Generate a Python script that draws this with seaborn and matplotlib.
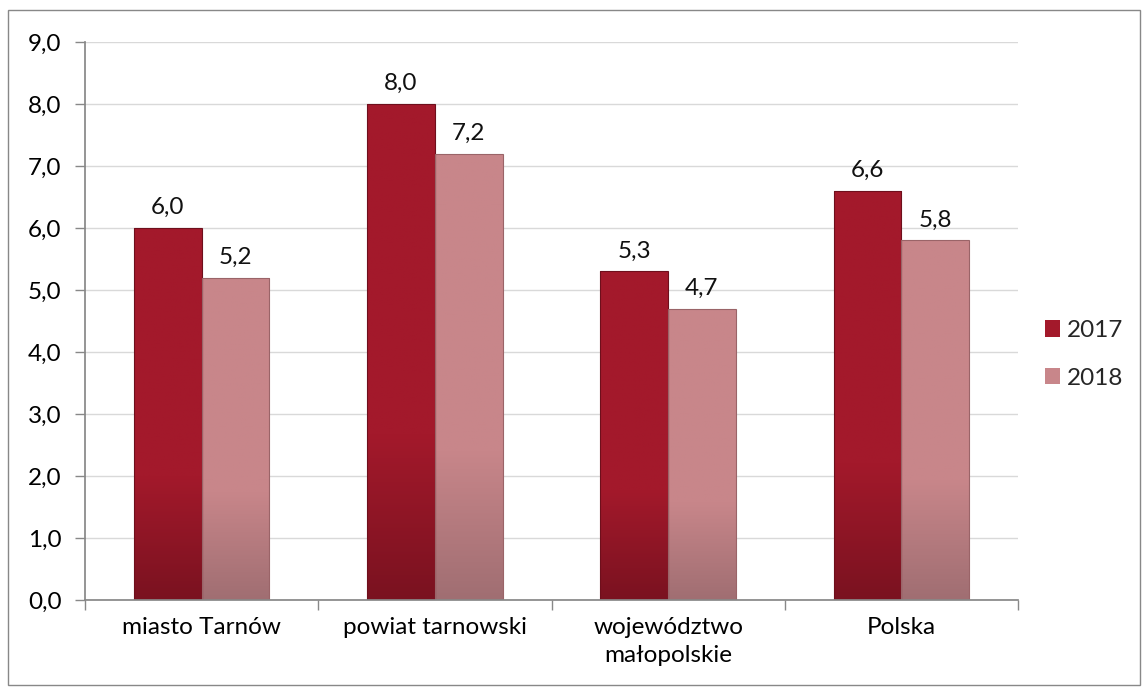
import numpy as np
import pandas as pd
import matplotlib
matplotlib.use("Agg")
import matplotlib.pyplot as plt
import matplotlib.colors as mcolors
from matplotlib.patches import Rectangle
import seaborn as sns

categories = ["miasto Tarnów", "powiat tarnowski", "województwo\nmałopolskie", "Polska"]
values_2017 = [6.0, 8.0, 5.3, 6.6]
values_2018 = [5.2, 7.2, 4.7, 5.8]
series = ["2017", "2018"]
y_ticks = [0, 1, 2, 3, 4, 5, 6, 7, 8, 9]

df = pd.DataFrame({
    "kategoria": categories * 2,
    "rok": [series[0]] * 4 + [series[1]] * 4,
    "wartosc": values_2017 + values_2018,
})

sns.set_theme(style="white")
plt.rcParams["font.family"] = ["Lato", "DejaVu Sans"]

FS = 17.5
colors = {"2017": "#A3192B", "2018": "#C8868A"}
dark = {"2017": "#7A1220", "2018": "#A06E72"}
edge = {"2017": "#6E0F1C", "2018": "#9A6468"}

fig = plt.figure(figsize=(11.48, 6.93), dpi=100)
ax = fig.add_axes([85 / 1148, 93 / 693, (1018 - 85) / 1148, (600 - 42) / 693])

sns.barplot(data=df, x="kategoria", y="wartosc", hue="rok", order=categories,
            hue_order=series, palette=colors, width=0.58, ax=ax,
            edgecolor="none", linewidth=0, legend=True)

for cont, s in zip(ax.containers, series):
    cmap = mcolors.LinearSegmentedColormap.from_list("g", [dark[s], colors[s], colors[s], colors[s]])
    for bar in cont:
        x0, y0 = bar.get_x(), bar.get_y()
        w, h = bar.get_width(), bar.get_height()
        grad = np.linspace(0, 1, 256).reshape(-1, 1)
        im = ax.imshow(grad, extent=[x0, x0 + w, y0, y0 + h], origin="lower",
                       cmap=cmap, aspect="auto", zorder=bar.get_zorder() + 0.1)
        im.set_clip_path(bar)
        ax.add_patch(Rectangle((x0, y0), w, h, fill=False, edgecolor=edge[s],
                               linewidth=0.8, zorder=bar.get_zorder() + 0.2))
        ax.annotate(f"{h:.1f}".replace(".", ","), (x0 + w / 2, y0 + h),
                    xytext=(0, 7), textcoords="offset points",
                    ha="center", va="bottom", fontsize=FS, color="#111111")

ax.set_xlim(-0.5, 3.5)
ax.set_ylim(0, 9)
ax.set_yticks(y_ticks)
ax.set_yticklabels([f"{v:.1f}".replace(".", ",") for v in y_ticks], fontsize=FS, color="#000000")
ax.set_xticks(range(4))
ax.set_xticklabels(categories, fontsize=FS, color="#000000", linespacing=1.45)
ax.set_xticks([-0.5, 0.5, 1.5, 2.5, 3.5], minor=True)
ax.tick_params(axis="x", which="major", length=0, pad=12)
ax.tick_params(axis="x", which="minor", length=7, color="#888888", width=1, bottom=True)
ax.tick_params(axis="y", length=7, color="#888888", width=1, left=True, pad=10)
ax.set_xlabel("")
ax.set_ylabel("")
ax.grid(axis="y", color="#D9D9D9", linewidth=1)
ax.set_axisbelow(True)
for side in ["top", "right"]:
    ax.spines[side].set_visible(False)
ax.spines["left"].set_color("#888888")
ax.spines["bottom"].set_color("#888888")

leg = ax.legend(loc="center left", bbox_to_anchor=(1.005, 0.44), frameon=False,
                fontsize=FS, handlelength=0.65, handleheight=0.65, handletextpad=0.25,
                labelspacing=1.1)
for h, s in zip(leg.legend_handles, series):
    h.set_facecolor(colors[s])
    h.set_edgecolor(edge[s])

fig.patches.append(Rectangle((8 / 1148, 8 / 693), 1132 / 1148, 675 / 693, fill=False,
                             edgecolor="#888888", linewidth=1, transform=fig.transFigure))

fig.savefig("out.png", dpi=100)
